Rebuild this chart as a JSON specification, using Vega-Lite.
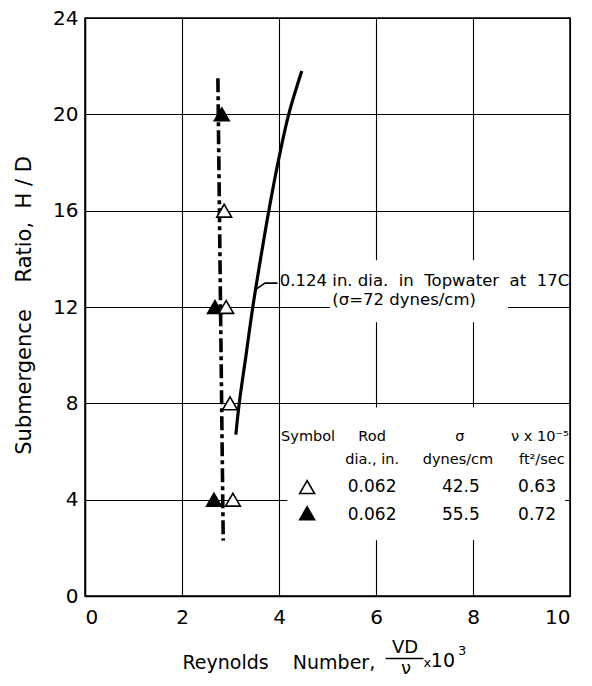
{
  "$schema": "https://vega.github.io/schema/vega-lite/v6.json",
  "width": 485,
  "height": 578,
  "autosize": "none",
  "padding": {"left": 85, "top": 18, "right": 22, "bottom": 90},
  "background": "white",
  "config": {
    "font": "DejaVu Sans",
    "view": {"stroke": "black", "strokeWidth": 1.5},
    "axis": {
      "labelFont": "DejaVu Sans",
      "titleFont": "DejaVu Sans",
      "labelColor": "black",
      "titleColor": "black",
      "titleFontWeight": "normal",
      "grid": true,
      "gridColor": "black",
      "gridOpacity": 1,
      "gridWidth": 1.1,
      "domainColor": "black",
      "domainWidth": 1.5,
      "ticks": false
    }
  },
  "datasets": {
    "masks": [
      {"x": 4.03, "x2": 9.94, "y": 12.49, "y2": 13.94},
      {"x": 5.05, "x2": 8.72, "y": 11.37, "y2": 12.49},
      {"x": 4.17, "x2": 9.9, "y": 2.32, "y2": 7.83}
    ],
    "curves": [
      {"series": "tapwater", "seq": 1, "re": 3.11, "hd": 6.7},
      {"series": "tapwater", "seq": 2, "re": 3.18, "hd": 8.0},
      {"series": "tapwater", "seq": 3, "re": 3.32, "hd": 10.0},
      {"series": "tapwater", "seq": 4, "re": 3.46, "hd": 12.0},
      {"series": "tapwater", "seq": 5, "re": 3.62, "hd": 14.0},
      {"series": "tapwater", "seq": 6, "re": 3.79, "hd": 16.0},
      {"series": "tapwater", "seq": 7, "re": 3.98, "hd": 18.0},
      {"series": "tapwater", "seq": 8, "re": 4.2, "hd": 20.0},
      {"series": "tapwater", "seq": 9, "re": 4.47, "hd": 21.8},
      {"series": "rod", "seq": 1, "re": 2.74, "hd": 21.5},
      {"series": "rod", "seq": 2, "re": 2.85, "hd": 2.3},
      {"series": "leader", "seq": 1, "re": 3.53, "hd": 12.74},
      {"series": "leader", "seq": 2, "re": 3.71, "hd": 12.99},
      {"series": "leader", "seq": 3, "re": 3.97, "hd": 12.99}
    ],
    "points": [
      {"re": 2.82, "hd": 20, "sym": "filled"},
      {"re": 2.87, "hd": 16, "sym": "open"},
      {"re": 2.68, "hd": 12, "sym": "filled"},
      {"re": 2.91, "hd": 12, "sym": "open"},
      {"re": 2.99, "hd": 8, "sym": "open"},
      {"re": 2.66, "hd": 4, "sym": "filled"},
      {"re": 3.05, "hd": 4, "sym": "open"}
    ],
    "key": [
      {"re": 4.58, "hd": 4.52, "sym": "open"},
      {"re": 4.58, "hd": 3.44, "sym": "filled"}
    ],
    "notes": [
      {"kind": "note", "x": 7.0, "y": 13.1, "text": "0.124 in. dia.\u00a0\u00a0in\u00a0\u00a0Topwater\u00a0\u00a0at\u00a0\u00a017C"},
      {"kind": "note", "x": 6.58, "y": 12.3, "text": "(σ=72 dynes/cm)"},
      {"kind": "header", "x": 4.6, "y": 6.6, "text": "Symbol"},
      {"kind": "header", "x": 5.92, "y": 6.6, "text": "Rod"},
      {"kind": "header", "x": 5.92, "y": 5.64, "text": "dia., in."},
      {"kind": "header", "x": 7.73, "y": 6.6, "text": "σ"},
      {"kind": "header", "x": 7.69, "y": 5.64, "text": "dynes/cm"},
      {"kind": "header", "x": 9.38, "y": 6.6, "text": "ν x 10⁻⁵"},
      {"kind": "header", "x": 9.42, "y": 5.64, "text": "ft²/sec"},
      {"kind": "value", "x": 5.92, "y": 4.52, "text": "0.062"},
      {"kind": "value", "x": 7.75, "y": 4.52, "text": "42.5"},
      {"kind": "value", "x": 9.32, "y": 4.52, "text": "0.63"},
      {"kind": "value", "x": 5.92, "y": 3.36, "text": "0.062"},
      {"kind": "value", "x": 7.75, "y": 3.36, "text": "55.5"},
      {"kind": "value", "x": 9.32, "y": 3.36, "text": "0.72"}
    ],
    "xtitle": [
      {"part": "num", "x": 6.6, "y": -2.37, "text": "VD"},
      {"part": "den", "x": 6.62, "y": -3.22, "text": "ν"},
      {"part": "times", "x": 6.98, "y": -2.95, "text": "x"},
      {"part": "ten", "x": 7.13, "y": -2.95, "text": "10"},
      {"part": "exp", "x": 7.69, "y": -2.45, "text": "3"}
    ],
    "bar": [
      {"x": 6.2, "x2": 6.98, "y": -2.6}
    ]
  },
  "layer": [
    {
      "data": {"name": "masks"},
      "mark": {"type": "rect", "fill": "white", "stroke": null},
      "encoding": {
        "x": {
          "field": "x", "type": "quantitative",
          "scale": {"domain": [0, 10], "nice": false},
          "axis": {
            "values": [0, 2, 4, 6, 8, 10],
            "labelFontSize": 20,
            "labelPadding": 11,
            "title": "Reynolds\u00a0\u00a0\u00a0\u00a0Number,",
            "titleFontSize": 19,
            "titleAnchor": null,
            "titleAlign": "left",
            "titleBaseline": "alphabetic",
            "titleX": 97,
            "titleY": 72
          }
        },
        "x2": {"field": "x2"},
        "y": {
          "field": "y", "type": "quantitative",
          "scale": {"domain": [0, 24], "nice": false},
          "axis": {
            "values": [0, 4, 8, 12, 16, 20, 24],
            "labelFontSize": 20,
            "labelPadding": 7,
            "title": "Submergence\u00a0\u00a0\u00a0\u00a0Ratio,\u00a0\u00a0H\u00a0/\u00a0D",
            "titleFontSize": 21,
            "titleAngle": 270,
            "titleAlign": "center",
            "titleBaseline": "alphabetic",
            "titleX": -55,
            "titleY": 287
          }
        },
        "y2": {"field": "y2"}
      }
    },
    {
      "data": {"name": "curves"},
      "transform": [{"filter": "datum.series === 'leader'"}],
      "mark": {"type": "line", "color": "black", "strokeWidth": 1.6},
      "encoding": {
        "x": {"field": "re", "type": "quantitative"},
        "y": {"field": "hd", "type": "quantitative"},
        "order": {"field": "seq"}
      }
    },
    {
      "data": {"name": "curves"},
      "transform": [{"filter": "datum.series === 'tapwater'"}],
      "mark": {"type": "line", "color": "black", "strokeWidth": 3.2, "interpolate": "catmull-rom"},
      "encoding": {
        "x": {"field": "re", "type": "quantitative"},
        "y": {"field": "hd", "type": "quantitative"},
        "order": {"field": "seq"}
      }
    },
    {
      "data": {"name": "curves"},
      "transform": [{"filter": "datum.series === 'rod'"}],
      "mark": {"type": "line", "color": "black", "strokeWidth": 3.6, "strokeDash": [14, 4, 4, 4]},
      "encoding": {
        "x": {"field": "re", "type": "quantitative"},
        "y": {"field": "hd", "type": "quantitative"},
        "order": {"field": "seq"}
      }
    },
    {
      "data": {"name": "bar"},
      "mark": {"type": "rule", "color": "black", "strokeWidth": 1.5, "clip": false},
      "encoding": {
        "x": {"field": "x", "type": "quantitative"},
        "x2": {"field": "x2"},
        "y": {"field": "y", "type": "quantitative"}
      }
    },
    {
      "data": {"name": "points"},
      "mark": {"type": "point", "shape": "triangle-up", "filled": true, "stroke": "black", "strokeWidth": 1.6, "size": 220, "opacity": 1},
      "encoding": {
        "x": {"field": "re", "type": "quantitative"},
        "y": {"field": "hd", "type": "quantitative"},
        "fill": {"field": "sym", "type": "nominal", "scale": {"domain": ["open", "filled"], "range": ["white", "black"]}, "legend": null}
      }
    },
    {
      "data": {"name": "key"},
      "mark": {"type": "point", "shape": "triangle-up", "filled": true, "stroke": "black", "strokeWidth": 1.6, "size": 220, "opacity": 1},
      "encoding": {
        "x": {"field": "re", "type": "quantitative"},
        "y": {"field": "hd", "type": "quantitative"},
        "fill": {"field": "sym", "type": "nominal", "legend": null}
      }
    },
    {
      "data": {"name": "notes"},
      "transform": [{"filter": "datum.kind === 'note'"}],
      "mark": {"type": "text", "align": "center", "baseline": "middle", "fontSize": 16.5, "color": "black"},
      "encoding": {
        "x": {"field": "x", "type": "quantitative"},
        "y": {"field": "y", "type": "quantitative"},
        "text": {"field": "text"}
      }
    },
    {
      "data": {"name": "notes"},
      "transform": [{"filter": "datum.kind === 'header'"}],
      "mark": {"type": "text", "align": "center", "baseline": "middle", "fontSize": 14.5, "color": "black"},
      "encoding": {
        "x": {"field": "x", "type": "quantitative"},
        "y": {"field": "y", "type": "quantitative"},
        "text": {"field": "text"}
      }
    },
    {
      "data": {"name": "notes"},
      "transform": [{"filter": "datum.kind === 'value'"}],
      "mark": {"type": "text", "align": "center", "baseline": "middle", "fontSize": 17, "color": "black"},
      "encoding": {
        "x": {"field": "x", "type": "quantitative"},
        "y": {"field": "y", "type": "quantitative"},
        "text": {"field": "text"}
      }
    },
    {
      "data": {"name": "xtitle"},
      "transform": [{"filter": "datum.part === 'num' || datum.part === 'den'"}],
      "mark": {"type": "text", "align": "center", "baseline": "alphabetic", "fontSize": 18, "color": "black"},
      "encoding": {
        "x": {"field": "x", "type": "quantitative"},
        "y": {"field": "y", "type": "quantitative"},
        "text": {"field": "text"}
      }
    },
    {
      "data": {"name": "xtitle"},
      "transform": [{"filter": "datum.part === 'times' || datum.part === 'exp'"}],
      "mark": {"type": "text", "align": "left", "baseline": "alphabetic", "fontSize": 13, "color": "black"},
      "encoding": {
        "x": {"field": "x", "type": "quantitative"},
        "y": {"field": "y", "type": "quantitative"},
        "text": {"field": "text"}
      }
    },
    {
      "data": {"name": "xtitle"},
      "transform": [{"filter": "datum.part === 'ten'"}],
      "mark": {"type": "text", "align": "left", "baseline": "alphabetic", "fontSize": 19, "color": "black"},
      "encoding": {
        "x": {"field": "x", "type": "quantitative"},
        "y": {"field": "y", "type": "quantitative"},
        "text": {"field": "text"}
      }
    }
  ]
}
